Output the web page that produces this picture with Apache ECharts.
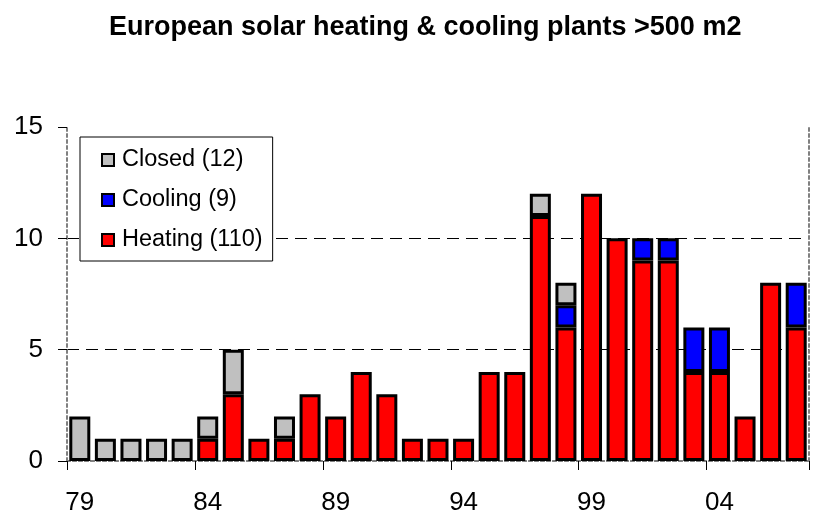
<!DOCTYPE html>
<html>
<head>
<meta charset="utf-8">
<script src="https://cdn.jsdelivr.net/npm/echarts@6/dist/echarts.min.js"></script>
<style>
html,body{margin:0;padding:0;background:#fff;}
#chart{width:823px;height:529px;}
</style>
</head>
<body>
<div id="chart"></div>
<script>
const years = ['79','80','81','82','83','84','85','86','87','88','89','90','91','92','93','94','95','96','97','98','99','00','01','02','03','04','05','06','07'];
const heating = [0,0,0,0,0,1,3,1,1,3,2,4,3,1,1,1,4,4,11,6,12,10,9,9,4,4,2,8,6];
const cooling = [0,0,0,0,0,0,0,0,0,0,0,0,0,0,0,0,0,0,0,1,0,0,1,1,2,2,0,0,2];
const closed  = [2,1,1,1,1,1,2,0,1,0,0,0,0,0,0,0,0,0,1,1,0,0,0,0,0,0,0,0,0];
const seriesNames = ['Heating (110)','Cooling (9)','Closed (12)'];
const legendOrder = ['Closed (12)','Cooling (9)','Heating (110)'];
const colors = {'Heating (110)':'#FF0000','Cooling (9)':'#0000FF','Closed (12)':'#C0C0C0'};
const yTicks = {min:0,max:15,interval:5};

const font = 'Arial, "Liberation Sans", sans-serif';
const chart = echarts.init(document.getElementById('chart'), null, {renderer:'canvas'});
const borderLine = {show:true, lineStyle:{color:'#808080', width:2, type:[3,3]}};
const dataSets = [heating, cooling, closed];

chart.setOption({
  animation:false,
  backgroundColor:'#fff',
  title:{
    text:'European solar heating & cooling plants >500 m2',
    left:104, top:9,
    textStyle:{fontFamily:font, fontSize:27, fontWeight:'bold', color:'#000'}
  },
  legend:{
    orient:'vertical', left:80, top:137,
    data:legendOrder.map(n=>({name:n, icon:'rect', itemStyle:{color:colors[n], borderColor:'#000', borderWidth:2}})),
    itemWidth:12, itemHeight:12, itemGap:16,
    padding:[11,10,9,21],
    borderColor:'#000', borderWidth:1,
    backgroundColor:'#fff',
    selectedMode:false,
    textStyle:{fontFamily:font, fontSize:23.5, color:'#000', padding:[0,0,0,3]}
  },
  grid:{left:67, right:14, top:127, bottom:68, containLabel:false},
  xAxis:[{
    type:'category', data:years, boundaryGap:true, position:'bottom',
    axisLine:borderLine,
    axisTick:{show:true, interval:4, length:9, lineStyle:{color:'#000', width:1}},
    axisLabel:{interval:4, margin:29, fontFamily:font, fontSize:26, color:'#000'},
    splitLine:{show:false}
  },{
    type:'category', data:years, position:'top',
    axisLine:borderLine, axisTick:{show:false}, axisLabel:{show:false}
  }],
  yAxis:[{
    type:'value', min:yTicks.min, max:yTicks.max, interval:yTicks.interval, position:'left',
    axisLine:borderLine,
    axisTick:{show:true, length:9, lineStyle:{color:'#000', width:1}},
    axisLabel:{margin:24, fontFamily:font, fontSize:26, color:'#000'},
    splitLine:{show:true, showMinLine:false, showMaxLine:false, lineStyle:{color:'#000', width:1, type:[12,7]}}
  },{
    type:'value', min:yTicks.min, max:yTicks.max, interval:yTicks.interval, position:'right',
    axisLine:borderLine, axisTick:{show:false}, axisLabel:{show:false}, splitLine:{show:false}
  }],
  series: seriesNames.map((n,i)=>({
    name:n, type:'bar', stack:'total', barWidth:21,
    data:dataSets[i].map(v => v === 0 ? '-' : v),
    itemStyle:{color:colors[n], borderColor:'#000', borderWidth:3},
    emphasis:{disabled:true}
  }))
});
</script>
</body>
</html>
